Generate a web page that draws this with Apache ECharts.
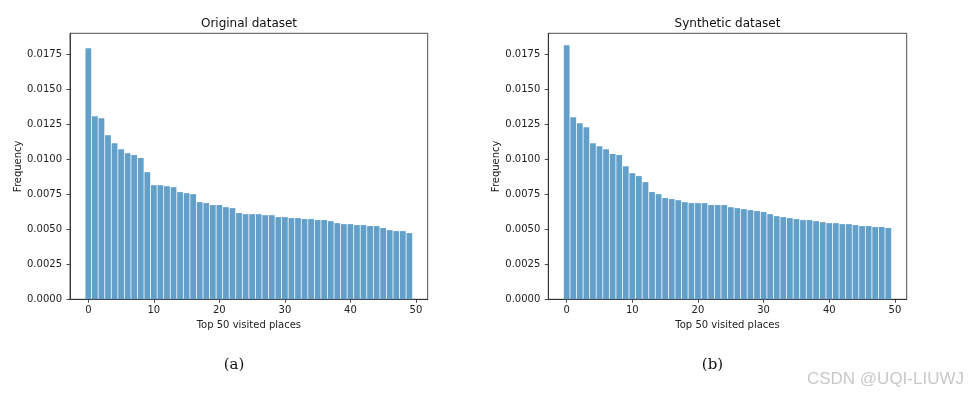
<!DOCTYPE html>
<html>
<head>
<meta charset="utf-8">
<script src="https://cdn.jsdelivr.net/npm/echarts@6/dist/echarts.min.js"></script>
<style>
  html, body { margin: 0; padding: 0; background: #fff; }
  #chart { width: 969px; height: 396px; }
</style>
</head>
<body>
<div id="chart"></div>
<script>
// top 50 visited places, frequency per rank
const places = Array.from({ length: 50 }, (_, i) => i)
const originalFreq = [
  0.01793, 0.01308, 0.01294, 0.01172, 0.01115, 0.01072, 0.01044, 0.01030, 0.01010, 0.00908,
  0.00815, 0.00815, 0.00808, 0.00801, 0.00766, 0.00758, 0.00751, 0.00694, 0.00687, 0.00673,
  0.00673, 0.00658, 0.00651, 0.00616, 0.00608, 0.00608, 0.00608, 0.00601, 0.00601, 0.00587,
  0.00587, 0.00580, 0.00580, 0.00573, 0.00573, 0.00566, 0.00566, 0.00558, 0.00544, 0.00537,
  0.00537, 0.00530, 0.00530, 0.00523, 0.00523, 0.00509, 0.00494, 0.00487, 0.00487, 0.00473
]
const syntheticFreq = [
  0.01814, 0.01300, 0.01258, 0.01229, 0.01115, 0.01094, 0.01072, 0.01037, 0.01030, 0.00951,
  0.00901, 0.00880, 0.00837, 0.00766, 0.00751, 0.00723, 0.00716, 0.00708, 0.00694, 0.00687,
  0.00687, 0.00687, 0.00673, 0.00673, 0.00673, 0.00658, 0.00651, 0.00644, 0.00637, 0.00630,
  0.00623, 0.00608, 0.00594, 0.00587, 0.00580, 0.00573, 0.00566, 0.00566, 0.00558, 0.00551,
  0.00544, 0.00544, 0.00537, 0.00537, 0.00530, 0.00523, 0.00523, 0.00516, 0.00516, 0.00509
]
const xTicks = [0, 10, 20, 30, 40, 50]
const yTicks = [0, 0.0025, 0.005, 0.0075, 0.01, 0.0125, 0.015, 0.0175]
const panelTitles = ['Original dataset', 'Synthetic dataset']
const panelLabels = ['(a)', '(b)']
const xName = 'Top 50 visited places'
const yName = 'Frequency'

const font = 'DejaVu Sans'
const ink = '#222'
const barColor = '#62a0ca'

const grids = [
  { left: 70, top: 33.3, width: 357.7, height: 266 },
  { left: 548.3, top: 33.3, width: 358.4, height: 266 }
]
const centers = [249, 727.5]

const chart = echarts.init(document.getElementById('chart'))

const xAxes = grids.map((g, i) => ({
  gridIndex: i,
  type: 'value',
  min: -2.8,
  max: 51.8,
  name: xName,
  nameLocation: 'middle',
  nameGap: 20,
  nameTextStyle: { fontFamily: font, fontSize: 10, color: ink },
  splitLine: { show: false },
  axisLine: { show: true, onZero: false, lineStyle: { color: ink, width: 0.8 } },
  axisTick: { show: true, length: 3.5, lineStyle: { color: ink, width: 0.8 }, customValues: xTicks },
  axisLabel: { fontFamily: font, fontSize: 10, color: ink, margin: 6, customValues: xTicks }
}))

const yAxes = grids.map((g, i) => ({
  gridIndex: i,
  type: 'value',
  min: 0,
  max: 0.019,
  name: yName,
  nameLocation: 'middle',
  nameGap: 46,
  nameTextStyle: { fontFamily: font, fontSize: 10, color: ink },
  splitLine: { show: false },
  axisLine: { show: true, onZero: false, lineStyle: { color: ink, width: 0.8 } },
  axisTick: { show: true, length: 3.5, lineStyle: { color: ink, width: 0.8 }, customValues: yTicks },
  axisLabel: {
    fontFamily: font, fontSize: 10, color: ink, margin: 8,
    customValues: yTicks,
    formatter: v => v.toFixed(4)
  }
}))

const makeSeries = (values, idx) => ({
  type: 'bar',
  xAxisIndex: idx,
  yAxisIndex: idx,
  data: places.map((p, i) => [p, values[i]]),
  barWidth: '88%',
  itemStyle: { color: barColor },
  silent: true
})

const option = {
  backgroundColor: '#fff',
  animation: false,
  title: [
    ...panelTitles.map((t, i) => ({
      text: t, left: centers[i] - 5, top: 13, textAlign: 'center',
      textStyle: { fontFamily: font, fontSize: 12, fontWeight: 'normal', color: '#111' }
    })),
    ...panelLabels.map((t, i) => ({
      text: t, left: centers[i] - 20, top: 353, textAlign: 'center',
      textStyle: { fontFamily: 'DejaVu Serif', fontSize: 15, fontWeight: 'normal', color: '#111' }
    })),
    {
      text: 'CSDN @UQI-LIUWJ', right: 0, top: 366,
      textStyle: { fontFamily: 'Liberation Sans', fontSize: 17, fontWeight: 'normal', color: '#c8c8c8' }
    }
  ],
  grid: grids.map(g => ({ ...g, show: true, borderColor: ink, borderWidth: 0.8, backgroundColor: 'transparent' })),
  xAxis: xAxes,
  yAxis: yAxes,
  series: [makeSeries(originalFreq, 0), makeSeries(syntheticFreq, 1)]
}

chart.setOption(option)
</script>
</body>
</html>
